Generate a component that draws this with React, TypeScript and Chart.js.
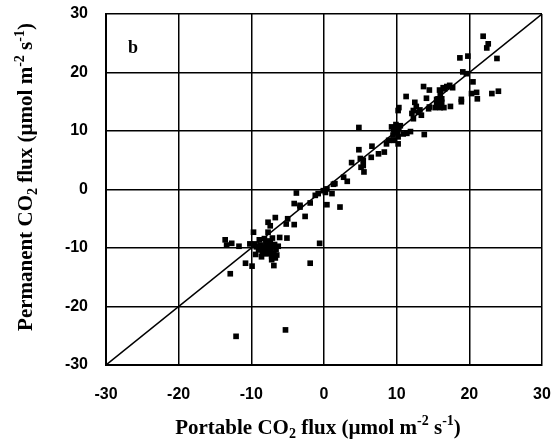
import React, { useEffect, useRef } from "react";
import { Chart, registerables } from "chart.js";

Chart.register(...registerables);

const portableFlux: number[] = [
  // cluster near -8,-10
  -9.3, -9.0, -8.7, -8.5, -8.3, -8.1, -8.0, -7.9, -7.8, -7.6, -7.5, -7.4, -7.3, -7.2, -7.0, -6.9, -6.8, -6.6, -6.5, -8.9, -8.2, -7.7, -6.3, -9.4, -8.6, -7.1, -6.7,
  // edges of cluster & low range
  -9.7, -10.2, -9.6, -7.2, -6.9, -6.1, -5.1, -7.7, -6.7, -7.4, -7.7, -5.0, -5.2, -4.1, -2.6, -4.1, -3.3, -1.9, -1.9, -0.6,
  -13.6, -13.4, -12.7, -11.7, -12.9, -10.8, -9.9, -12.1, -5.3,
  // around 0
  -3.8, -3.3, -1.2, -0.8, -0.1, 0.2, 0.4, 1.1, 1.3, 0.4, 2.2, 2.7, 3.2, 1.5,
  // around 5
  3.8, 4.8, 4.8, 5.0, 5.4, 5.4, 5.1, 5.5, 6.6, 6.5, 7.5, 8.3, 8.6, 8.9,
  // around 10
  9.3, 9.6, 9.8, 10.0, 9.7, 10.1, 10.3, 9.5, 10.2, 10.9, 10.2, 10.3, 10.2, 9.6, 11.4, 11.9, 13.8, 9.9, 10.5,
  // 11-18
  11.3, 12.5, 12.7, 13.2, 14.4, 12.3, 12.3, 13.4, 12.1, 13.0, 14.5, 13.7, 14.5, 15.9, 16.4, 16.9, 17.7, 16.0, 14.1, 15.5, 16.2, 15.7, 16.2, 15.5, 15.3, 16.0, 16.5, 17.4, 17.3, 16.6,
  // upper
  21.9, 22.6, 22.4, 23.8, 18.7, 19.8, 19.1, 20.5, 21.0, 20.3, 21.1, 23.1, 24.0, 18.9, 18.9, 19.6,
];

const permanentFlux: number[] = [
  -9.8, -10.3, -9.5, -10.8, -9.9, -10.5, -9.2, -11.0, -10.1, -9.6, -10.7, -9.0, -10.3, -11.4, -9.8, -10.9, -9.4, -10.2, -11.2, -8.6, -8.4, -8.8, -9.7, -11.1, -11.5, -8.3, -11.7,
  -7.3, -9.3, -9.3, -12.0, -13.0, -8.2, -8.3, -5.6, -4.8, -6.2, -7.3, -5.0, -5.9, -6.0, -4.6, -2.4, -2.7, -2.3, -12.6, -9.2,
  -8.6, -9.5, -9.2, -9.7, -14.4, -12.6, -13.1, -25.1, -24.0,
  -0.6, -3.0, -1.0, -0.7, -0.2, -0.5, 0.1, -0.7, 0.9, -2.6, -3.0, 2.1, 1.4, 1.0,
  4.6, 6.8, 10.6, 5.3, 5.0, 4.1, 3.8, 3.0, 7.4, 5.5, 6.1, 6.4, 7.8, 8.4,
  10.7, 10.2, 10.1, 10.6, 9.7, 9.9, 10.4, 9.3, 7.8, 9.5, 13.5, 14.0, 9.0, 8.4, 9.6, 9.9, 9.4, 11.1, 10.9,
  15.9, 14.9, 14.2, 13.6, 13.8, 13.5, 12.1, 12.7, 13.0, 13.2, 14.1, 17.6, 17.0, 17.0, 17.4, 17.6, 17.4, 16.4, 15.6, 15.4, 15.5, 15.5, 14.9, 14.7, 14.0, 14.0, 14.0, 14.2, 17.8, 17.2,
  26.2, 24.9, 24.2, 22.4, 22.5, 22.8, 20.1, 18.4, 16.6, 16.4, 15.5, 16.4, 16.8, 15.4, 15.0, 19.8,
];

const oneToOneLine: number[] = [-30, 30];
const axisTicks: number[] = [-30, -20, -10, 0, 10, 20, 30];
const panelLabel = "b";

type Seg = { t: string; kind?: "sub" | "sup" };
const xTitle: Seg[] = [
  { t: "Portable CO" }, { t: "2", kind: "sub" }, { t: " flux (µmol m" }, { t: "-2", kind: "sup" }, { t: " s" }, { t: "-1", kind: "sup" }, { t: ")" },
];
const yTitle: Seg[] = [
  { t: "Permanent CO" }, { t: "2", kind: "sub" }, { t: " flux (µmol m" }, { t: "-2", kind: "sup" }, { t: " s" }, { t: "-1", kind: "sup" }, { t: ")" },
];

const SERIF = '"Liberation Serif", "Times New Roman", serif';

function drawRich(ctx: CanvasRenderingContext2D, segs: Seg[], cx: number, cy: number, size: number) {
  const small = Math.round(size * 0.65);
  const fontFor = (s: Seg) => `bold ${s.kind ? small : size}px ${SERIF}`;
  let total = 0;
  for (const s of segs) {
    ctx.font = fontFor(s);
    total += ctx.measureText(s.t).width;
  }
  let x = cx - total / 2;
  ctx.textBaseline = "alphabetic";
  ctx.textAlign = "left";
  ctx.fillStyle = "#000";
  const base = cy + size * 0.35;
  for (const s of segs) {
    ctx.font = fontFor(s);
    const dy = s.kind === "sub" ? size * 0.22 : s.kind === "sup" ? -size * 0.4 : 0;
    ctx.fillText(s.t, x, base + dy);
    x += ctx.measureText(s.t).width;
  }
}

const titlesPlugin = {
  id: "richTitles",
  afterDraw(chart: any) {
    const ctx: CanvasRenderingContext2D = chart.ctx;
    const area = chart.chartArea;
    ctx.save();
    drawRich(ctx, xTitle, 318, 426.5, 21);
    ctx.translate(25, 177);
    ctx.rotate(-Math.PI / 2);
    drawRich(ctx, yTitle, 0, 0, 21);
    ctx.restore();
    ctx.save();
    ctx.font = `bold 18px ${SERIF}`;
    ctx.fillStyle = "#000";
    ctx.textAlign = "center";
    ctx.textBaseline = "middle";
    ctx.fillText(panelLabel, area.left + 27, area.top + 34);
    ctx.restore();
  },
};

export default function App() {
  const ref = useRef<HTMLCanvasElement | null>(null);
  useEffect(() => {
    if (!ref.current) return;
    const points = portableFlux.map((x, i) => ({ x, y: permanentFlux[i] }));
    const tickFont = { family: '"Liberation Sans", Arial, sans-serif', size: 16, weight: "bold" as const };
    const clearPad = (s: any) => { s.paddingLeft = 0; s.paddingRight = 0; s.paddingTop = 0; s.paddingBottom = 0; };
    const chart = new Chart(ref.current, {
      type: "scatter",
      data: {
        datasets: [
          {
            type: "line",
            data: oneToOneLine.map((v) => ({ x: v, y: v })),
            borderColor: "#000",
            borderWidth: 1.5,
            pointRadius: 0,
            fill: false,
            order: 2,
          } as any,
          {
            data: points,
            pointStyle: "rect",
            pointRadius: 4,
            backgroundColor: "#000",
            borderWidth: 0,
            order: 1,
          },
        ],
      },
      options: {
        animation: false,
        responsive: false,
        devicePixelRatio: 1,
        layout: { padding: { left: 0, top: 14, right: 10, bottom: 0 } },
        plugins: { legend: { display: false }, tooltip: { enabled: false }, title: { display: false } },
        scales: {
          x: {
            type: "linear",
            min: -30,
            max: 30,
            afterBuildTicks: (s: any) => { s.ticks = axisTicks.map((v) => ({ value: v })); },
            afterFit: (s: any) => { s.height = 79; clearPad(s); },
            ticks: { font: tickFont, color: "#000", padding: 20 },
            grid: { color: "#000", lineWidth: 1.5, drawTicks: false },
            border: { display: true, color: "#000", width: 2 },
          },
          y: {
            type: "linear",
            min: -30,
            max: 30,
            afterBuildTicks: (s: any) => { s.ticks = axisTicks.map((v) => ({ value: v })); },
            afterFit: (s: any) => { s.width = 106; clearPad(s); },
            ticks: { font: tickFont, color: "#000", padding: 18 },
            grid: { color: "#000", lineWidth: 1.5, drawTicks: false },
            border: { display: true, color: "#000", width: 2 },
          },
        },
      },
      plugins: [titlesPlugin],
    } as any);
    return () => chart.destroy();
  }, []);
  return (
    <div style={{ position: "absolute", left: 0, top: 0, width: 552, height: 444, background: "#fff" }}>
      <canvas ref={ref} width={552} height={444} style={{ display: "block", width: 552, height: 444 }} />
    </div>
  );
}
